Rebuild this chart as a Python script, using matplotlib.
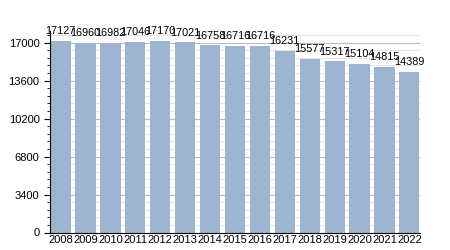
import matplotlib
matplotlib.use("Agg")
import matplotlib.pyplot as plt
from matplotlib.ticker import MultipleLocator

years = ["2008", "2009", "2010", "2011", "2012", "2013", "2014", "2015",
         "2016", "2017", "2018", "2019", "2020", "2021", "2022"]
values = [17127, 16960, 16982, 17046, 17170, 17021, 16758, 16716,
          16716, 16231, 15577, 15317, 15104, 14815, 14389]

plt.rcParams['font.family'] = ['Liberation Sans', 'DejaVu Sans']

fig = plt.figure(figsize=(4.5, 2.5), dpi=100)
ax = fig.add_axes([0.111, 0.07, 0.822, 0.804])

x = list(range(len(years)))
ax.bar(x, values, width=0.81, color="#9cb4cf", zorder=2)
for xi, v in zip(x, values):
    ax.annotate(str(v), (xi, v), xytext=(0, 3.5), textcoords="offset points",
                ha="center", va="bottom", fontsize=7.8, zorder=3)

ax.set_xlim(-0.43, 14.42)
ax.set_ylim(0, 18000)
ax.yaxis.set_major_locator(MultipleLocator(3400))
ax.yaxis.set_minor_locator(MultipleLocator(680))
ax.set_xticks(x)
ax.set_xticklabels(years)
ax.tick_params(axis='both', labelsize=8)
ax.tick_params(axis='x', length=0, pad=2)
ax.tick_params(axis='y', which='major', length=4.5, pad=3)
ax.tick_params(axis='y', which='minor', length=2.5)
ax.grid(axis='y', which='major', color="#bbbbbb", linewidth=0.8, zorder=0)
ax.grid(axis='y', which='minor', color="#e4e4e4", linewidth=0.8, zorder=0)
for s in ("top", "right"):
    ax.spines[s].set_visible(False)

fig.savefig("out.png", dpi=100)
